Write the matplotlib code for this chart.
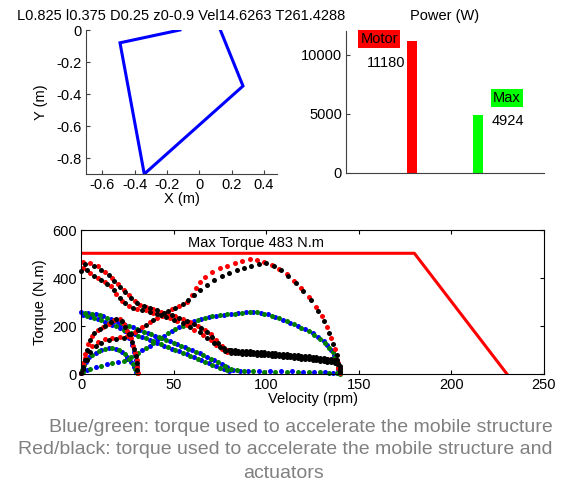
import matplotlib
matplotlib.use('Agg')
import matplotlib.pyplot as plt
from matplotlib.ticker import FormatStrFormatter

plt.rcParams['font.family'] = ['Liberation Sans', 'DejaVu Sans']
plt.rcParams['font.size'] = 10.5
plt.rcParams['axes.unicode_minus'] = False

# --- data ---------------------------------------------------------------
title_text = 'L0.825 l0.375 D0.25 z0-0.9 Vel14.6263 T261.4288'

# mechanism outline (m)
arm_x = [-0.12, -0.49, -0.34, 0.27, 0.13]
arm_y = [0.0, -0.08, -0.90, -0.35, 0.0]

# power bars (W)
power_names = ['Motor', 'Max']
power_values = [11180, 4924]

# max torque envelope
max_v = [0, 180, 230]
max_t = [503, 503, 0]
max_label = 'Max Torque 483 N.m'

# torque/velocity samples (rpm, N.m), one list per track
red_arch = [(0, 5), (1, 35), (2, 65), (4, 95), (6, 118), (9, 135), (13, 145), (17, 150), (21, 153),
            (25, 160), (29, 175), (33, 195), (37, 215), (41, 235), (45, 255), (49, 270), (53, 285),
            (57, 300), (60, 330), (62, 360), (64, 385), (67, 405), (71, 425), (75, 440), (79, 452),
            (83, 462), (87, 470), (91, 480), (95, 475), (99, 466), (103, 455), (107, 438), (111, 415),
            (115, 388), (119, 358), (123, 322), (127, 280), (130, 240), (133, 195), (135, 150),
            (137, 105), (138, 60), (139, 25), (140, 5)]
red_desc_hi = [(1, 467), (5, 462), (9, 448), (13, 425), (17, 400), (20, 375), (23, 352), (26, 330),
               (29, 305), (32, 288), (35, 278), (39, 270), (43, 260), (47, 250), (51, 240), (55, 228),
               (59, 215), (63, 200), (67, 185), (70, 165), (73, 142), (76, 118), (79, 100), (82, 92)]
red_desc_lo = [(1, 440), (5, 420), (9, 402), (13, 383), (16, 365), (19, 335), (22, 305), (26, 282),
               (30, 272), (35, 265), (39, 255), (44, 242), (48, 233), (52, 220), (57, 204), (61, 185),
               (66, 163), (70, 140), (73, 121), (76, 105), (79, 90)]
red_flat = [(85, 92), (91, 88), (97, 85), (103, 82), (109, 78), (115, 74), (121, 70), (127, 66),
            (133, 61), (137, 57), (139, 45), (140, 25), (140, 8)]
red_small = [(0, 5), (1, 45), (2, 85), (4, 125), (6, 160), (9, 182), (12, 196), (15, 210), (18, 225),
             (21, 228), (23, 210), (25, 180), (27, 148), (28, 118), (29, 88), (30, 58), (30.5, 30),
             (31, 5)]

black_arch = [(0, 5), (1, 30), (3, 60), (5, 90), (8, 115), (11, 130), (15, 140), (19, 145), (23, 152),
              (27, 165), (31, 185), (35, 205), (39, 225), (43, 245), (47, 262), (51, 275), (55, 290),
              (58, 310), (61, 330), (64, 352), (68, 372), (72, 392), (76, 408), (80, 420), (84, 432),
              (88, 442), (92, 452), (96, 460), (100, 462), (104, 452), (108, 432), (112, 408),
              (116, 378), (120, 345), (124, 308), (128, 262), (131, 220), (134, 172), (136, 125),
              (138, 80), (139, 40), (140, 8)]
black_desc_hi = [(2, 460), (7, 452), (11, 435), (15, 412), (18, 388), (21, 362), (24, 340), (27, 318),
                 (30, 296), (34, 282), (37, 274), (41, 265), (45, 255), (49, 245), (53, 234), (57, 222),
                 (61, 208), (65, 193), (68, 175), (71, 155), (74, 130), (77, 110), (80, 100)]
black_desc_lo = [(0, 430), (3, 432), (7, 410), (11, 392), (14, 375), (18, 350), (21, 318), (24, 295),
                 (28, 276), (33, 268), (37, 260), (41, 250), (46, 238), (50, 227), (55, 212), (59, 195),
                 (64, 175), (68, 152), (72, 130), (75, 112), (78, 96)]
black_flat_hi = [(81, 100), (83, 98), (85, 97), (87, 96), (89, 95), (91, 94), (93, 93), (95, 92),
                 (97, 91), (99, 90), (101, 89), (103, 88), (105, 86), (107, 85), (109, 84), (111, 82),
                 (113, 81), (115, 79), (117, 78), (119, 76), (121, 75), (123, 73), (125, 72), (127, 70),
                 (129, 68), (131, 66), (133, 64), (135, 62), (137, 60), (138, 58)]
black_flat_lo = [(81, 88), (83, 87), (85, 86), (87, 85), (89, 84), (91, 83), (93, 82), (95, 81),
                 (97, 80), (99, 79), (101, 78), (103, 76), (105, 75), (107, 74), (109, 72), (111, 71),
                 (113, 69), (115, 68), (117, 66), (119, 64), (121, 63), (123, 61), (125, 59), (127, 57),
                 (129, 55), (131, 53), (133, 51), (135, 49), (137, 47), (139, 42), (140, 32), (140, 20),
                 (140, 8)]
black_small = [(1, 20), (2, 60), (3, 100), (5, 140), (7, 170), (10, 188), (13, 200), (16, 215),
               (19, 228), (22, 222), (24, 195), (26, 165), (27.5, 135), (28.5, 105), (29.5, 75),
               (30, 45), (30.5, 18)]

blue_arch = [(0, 5), (3, 18), (8, 29), (14, 40), (20, 50), (25, 62), (29, 78), (33, 98), (37, 118),
             (41, 140), (45, 160), (49, 178), (53, 194), (57, 208), (61, 220), (65, 230), (69, 238),
             (73, 243), (77, 247), (81, 250), (85, 254), (89, 257), (93, 258), (97, 255), (101, 248),
             (105, 238), (109, 226), (113, 214), (117, 200), (121, 186), (125, 170), (128, 155),
             (131, 138), (133, 120), (135, 100), (136.5, 80), (137.5, 60), (138.5, 40), (139, 20),
             (139.5, 5)]
blue_desc_hi = [(0, 258), (4, 254), (8, 248), (12, 240), (16, 230), (20, 218), (24, 206), (28, 194),
                (32, 183), (36, 172), (40, 160), (44, 148), (48, 137), (52, 125), (56, 112), (60, 99),
                (64, 86), (68, 72), (72, 57), (76, 42), (79, 28), (82, 18), (86, 14)]
blue_desc_lo = [(1, 245), (5, 238), (9, 230), (13, 218), (17, 205), (21, 190), (25, 178), (29, 165),
                (33, 154), (37, 142), (41, 130), (45, 118), (49, 106), (53, 94), (57, 82), (61, 70),
                (65, 57), (69, 44), (73, 32), (77, 20), (80, 12)]
blue_flat = [(90, 14), (96, 13), (102, 12), (108, 12), (114, 11), (120, 10), (126, 9), (132, 8),
             (136, 6), (139, 3)]
blue_small = [(0, 5), (1, 28), (2.5, 50), (4.5, 72), (8, 88), (11, 100), (15, 107), (19, 104),
              (22, 92), (25, 72), (27, 52), (28.5, 30), (29.5, 10)]
blue_drop = [(18, 222), (21, 205), (24, 180), (26, 150), (27.5, 120), (28.5, 90), (29.5, 60),
             (30, 35), (30.5, 12)]

green_arch = [(1, 10), (5, 22), (11, 35), (17, 45), (23, 56), (27, 70), (31, 88), (35, 108), (39, 129),
              (43, 150), (47, 169), (51, 186), (55, 201), (59, 214), (63, 225), (67, 234), (71, 241),
              (75, 245), (79, 249), (83, 252), (87, 255), (91, 258), (95, 257), (99, 252), (103, 243),
              (107, 232), (111, 220), (115, 207), (119, 193), (123, 178), (126, 163), (129, 147),
              (132, 130), (134, 110), (136, 90), (137, 70), (138, 50), (139, 30), (139.5, 12)]
green_desc_hi = [(2, 256), (6, 251), (10, 244), (14, 235), (18, 224), (22, 212), (26, 200), (30, 188),
                 (34, 177), (38, 166), (42, 154), (46, 143), (50, 131), (54, 118), (58, 106), (62, 92),
                 (66, 79), (70, 64), (74, 50), (78, 35), (81, 22), (84, 15)]
green_desc_lo = [(3, 242), (7, 234), (11, 224), (15, 212), (19, 198), (23, 184), (27, 172), (31, 160),
                 (35, 148), (39, 136), (43, 124), (47, 112), (51, 100), (55, 88), (59, 76), (63, 63),
                 (67, 50), (71, 38), (75, 26), (79, 15)]
green_flat = [(88, 12), (93, 11), (99, 10), (105, 10), (111, 9), (117, 8), (123, 8), (129, 7),
              (134, 6), (138, 4), (140, 1)]
green_small = [(0.5, 15), (1.5, 38), (3.5, 62), (6, 80), (9.5, 95), (13, 104), (17, 107), (20.5, 99),
               (23.5, 82), (26, 62), (28, 41), (29, 20), (30, 5)]

caption = ['Blue/green: torque used to accelerate the mobile structure',
           'Red/black: torque used to accelerate the mobile structure and',
           'actuators']

# --- figure -------------------------------------------------------------
W, H = 561, 484
fig = plt.figure(figsize=(W / 100, H / 100), dpi=100)
spine_col = '#404040'


def px_axes(left, top, right, bottom):
    return fig.add_axes([left / W, 1 - bottom / H, (right - left) / W, (bottom - top) / H])


def style_open(ax):
    for s in ['top', 'right']:
        ax.spines[s].set_visible(False)
    for s in ['left', 'bottom']:
        ax.spines[s].set_color(spine_col)
    ax.tick_params(direction='in', length=3, color=spine_col, pad=3)


# top-left: mechanism
ax1 = px_axes(86, 30, 277, 174)
ax1.plot(arm_x, arm_y, color='#0000ff', lw=2.2, solid_joinstyle='miter')
ax1.set_xlim(-0.7, 0.48)
ax1.set_ylim(-0.9, 0)
ax1.set_xticks([-0.6, -0.4, -0.2, 0, 0.2, 0.4])
ax1.set_yticks([-0.8, -0.6, -0.4, -0.2, 0])
ax1.xaxis.set_major_formatter(FormatStrFormatter('%g'))
ax1.yaxis.set_major_formatter(FormatStrFormatter('%g'))
style_open(ax1)
ax1.set_xlabel('X (m)', labelpad=0)
ax1.set_ylabel('Y (m)', labelpad=6)
ax1.set_title(title_text, fontsize=10.5, pad=7)

# top-right: power
ax2 = px_axes(346, 31, 544, 173)
ax2.bar([1, 2], power_values, width=0.15, color=['#ff0000', '#00ff00'])
ax2.set_xlim(0, 3)
ax2.set_ylim(0, 12000)
ax2.set_xticks([])
ax2.set_yticks([0, 5000, 10000])
style_open(ax2)
ax2.set_title('Power (W)', fontsize=10.5, pad=8)
ax2.text(0.22, 11350, power_names[0], ha='left', va='center',
         bbox=dict(facecolor='#ff0000', edgecolor='none', pad=1.5))
ax2.text(0.32, 9300, str(power_values[0]), ha='left', va='center')
ax2.text(2.23, 6350, power_names[1], ha='left', va='center',
         bbox=dict(facecolor='#00ff00', edgecolor='none', pad=1.5))
ax2.text(2.2, 4400, str(power_values[1]), ha='left', va='center')

# bottom: torque vs velocity
ax3 = px_axes(81, 230, 544, 374)
ax3.plot(max_v, max_t, color='#ff0000', lw=2.2)
ax3.text(58, 545, max_label, ha='left', va='center')

dot = dict(linestyle='none', marker='o', ms=3.6, mew=0)
tracks = [
    ('#0000ff', [blue_arch, blue_desc_hi, blue_desc_lo, blue_flat, blue_small, blue_drop]),
    ('#008000', [green_arch, green_desc_hi, green_desc_lo, green_flat, green_small]),
    ('#ff0000', [red_arch, red_desc_hi, red_desc_lo, red_flat, red_small]),
    ('#000000', [black_arch, black_desc_hi, black_desc_lo, black_flat_hi, black_flat_lo, black_small]),
]
for col, group in tracks:
    for tr in group:
        v = [p[0] for p in tr]
        t = [p[1] for p in tr]
        ax3.plot(v, t, color=col, clip_on=False, **dot)

ax3.set_xlim(0, 250)
ax3.set_ylim(0, 600)
ax3.set_xticks([0, 50, 100, 150, 200, 250])
ax3.set_yticks([0, 200, 400, 600])
ax3.tick_params(direction='in', length=3, top=True, right=True, pad=3)
ax3.set_xlabel('Velocity (rpm)', labelpad=0)
ax3.set_ylabel('Torque (N.m)', labelpad=4)

# caption (first two lines end at the same right edge, last one centred)
cap_y = [427, 450, 473]
fig.text(553 / W, 1 - cap_y[0] / H, caption[0], ha='right', va='center',
         color='#808080', fontsize=14)
fig.text(553 / W, 1 - cap_y[1] / H, caption[1], ha='right', va='center',
         color='#808080', fontsize=14)
fig.text(283 / W, 1 - cap_y[2] / H, caption[2], ha='center', va='center',
         color='#808080', fontsize=14)

fig.savefig('out.png', dpi=100)
